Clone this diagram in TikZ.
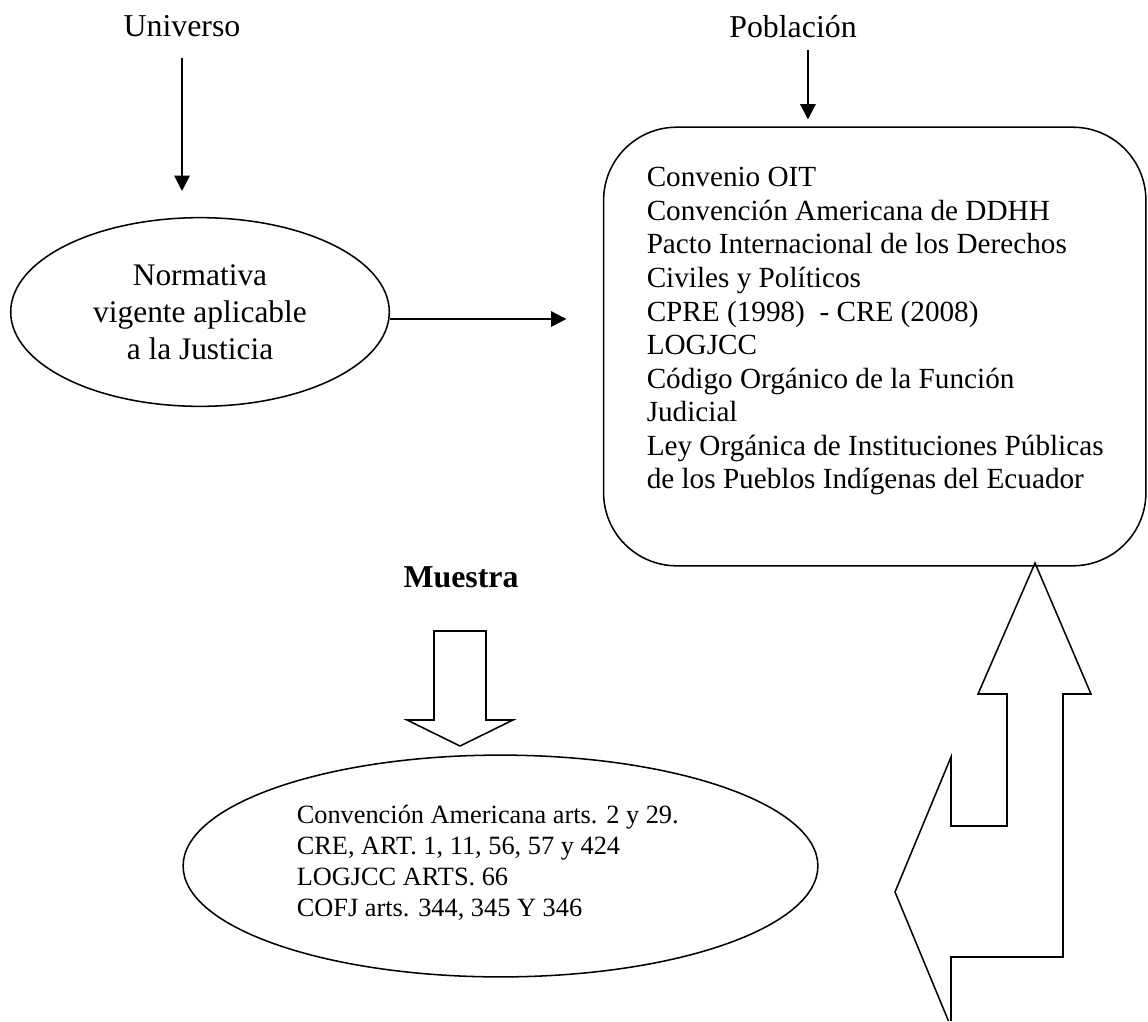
\documentclass[tikz,border=0pt]{standalone}
\usepackage{fontspec}
\setmainfont{Liberation Serif}
\usetikzlibrary{positioning, arrows.meta, shapes.geometric}

\begin{document}
\begin{tikzpicture}[
      x=0.016cm, y=-0.016cm,
      lbl/.style={inner sep=0pt, anchor=base, font=\fontsize{14.5}{16}\selectfont},
      oval/.style={draw, ellipse, line width=0.7pt, inner sep=0pt, align=center},
      frame/.style={draw, rounded corners=1.17cm, line width=0.7pt},
      arr/.style={line width=0.9pt, -{Triangle[length=7pt, width=7pt]}},
      block/.style={draw, line width=0.7pt, line join=miter}
    ]
    \useasboundingbox (0,0) rectangle (1148,1021);

    \node[lbl] (univ) at (182,36) {Universo};
    \node[lbl] (pobl) at (793,37) {Población};

    \node[oval, minimum width=6.06cm, minimum height=3.02cm,
          font=\fontsize{14.3}{16.8}\selectfont] (norma) at (200,312)
          {Normativa\\vigente aplicable\\a la Justicia};

    \node[frame, minimum width=8.68cm, minimum height=7.02cm] (pob) at (874.75,346.5) {};
    \node[anchor=north west, align=left, inner sep=0pt,
          font=\fontsize{13.3}{15.3}\selectfont]
          (poblist) at ([xshift=19.8pt, yshift=-18.4pt]pob.north west)
          {Convenio OIT\\
           Convención Americana de DDHH\\
           Pacto Internacional de los Derechos\\
           Civiles y Políticos\\
           CPRE (1998)\ \ - CRE (2008)\\
           LOGJCC\\
           Código Orgánico de la Función\\
           Judicial\\
           Ley Orgánica de Instituciones Públicas\\
           de los Pueblos Indígenas del Ecuador};

    \node[lbl, font=\bfseries\fontsize{14.5}{16}\selectfont] (muestra) at (461,587) {Muestra};

    \node[oval, minimum width=10.16cm, minimum height=3.55cm] (art) at (500.5,866) {};
    \node[anchor=west, align=left, inner sep=0pt,
          font=\fontsize{12}{14.1}\selectfont]
          (artlist) at ([xshift=51.9pt, yshift=1.6pt]art.west)
          {Convención Americana arts. 2 y 29.\\
           CRE, ART. 1, 11, 56, 57 y 424\\
           LOGJCC ARTS. 66\\
           COFJ arts. 344, 345 Y 346};

    \draw[arr, shorten <=9.6pt, shorten >=11.8pt] (univ) -- (univ |- norma.north);
    \draw[arr, shorten <=5.5pt, shorten >=3.2pt] ([xshift=6.8pt]pobl.south) -- ([xshift=6.8pt]pobl.south |- pob.north);
    \draw[arr, shorten >=16.6pt] ([yshift=-3.2pt]norma.east) -- ([yshift=-3.2pt]norma.east -| pob.west);

    % hollow arrow down to the sample
    \draw[block] (434,631) -- (486,631) -- (486,720) -- (513,720) -- (460,746)
      -- (407,720) -- (434,720) -- cycle;

    % bent hollow arrow back up to the box
    \draw[block] (948.5,1021) -- (895,892) -- (951,757) -- (951,826) -- (1007,826)
      -- (1007,694) -- (978,694) -- (1035,563) -- (1091,694) -- (1063,694)
      -- (1063,957) -- (951,957) -- (951,1021);
  \end{tikzpicture}
\end{document}
